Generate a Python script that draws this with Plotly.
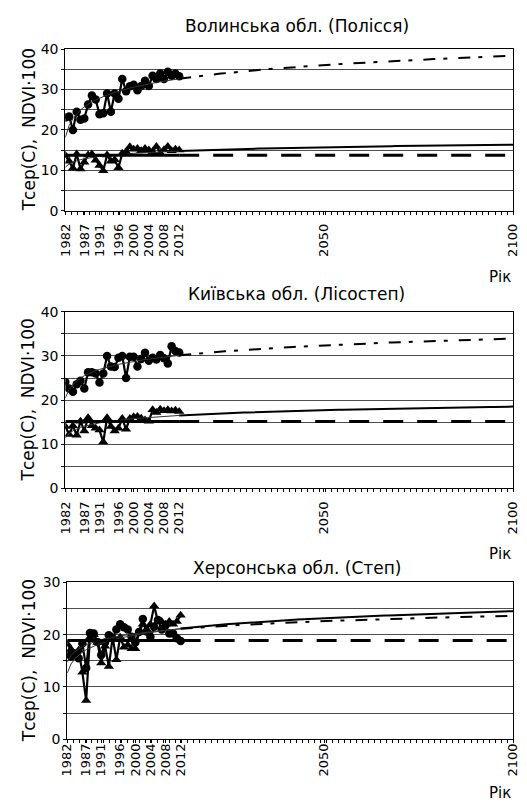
import numpy as np
import plotly.graph_objects as go

# ---------------- data ----------------
years = list(range(1982, 2013))
proj_years = list(range(2012, 2101))
tick_years = [1982, 1987, 1991, 1996, 2000, 2004, 2008, 2012, 2050, 2100]
tick_labels = [str(y) for y in tick_years]

titles = ["Волинська обл. (Полісся)", "Київська обл. (Лісостеп)", "Херсонська обл. (Степ)"]
y_title = "Тсер(С),  NDVI·100"
x_title = "Рік"

volyn_circles = [23.1, 23.3, 20.0, 24.5, 22.5, 22.8, 26.3, 28.5, 27.5, 23.9,
                 24.1, 29.0, 24.5, 29.0, 27.7, 32.6, 29.6, 30.8, 31.2, 29.8,
                 30.9, 32.2, 30.9, 33.4, 32.6, 34.0, 32.6, 34.4, 33.4, 34.0, 33.3]
volyn_triangles = [13.7, 12.2, 10.5, 14.0, 10.3, 12.0, 13.8, 14.0, 12.5, 11.2,
                   9.9, 13.8, 12.2, 12.6, 10.6, 14.2, 14.6, 15.8, 15.2, 15.4,
                   14.8, 15.4, 15.0, 14.6, 15.9, 14.3, 15.1, 15.9, 14.8, 15.2, 15.0]

kyiv_circles = [24.1, 22.6, 21.9, 23.6, 24.4, 22.6, 26.3, 26.3, 26.0, 24.0,
                26.0, 30.0, 27.6, 27.5, 29.6, 30.0, 25.0, 29.8, 29.8, 27.6,
                29.3, 30.7, 28.9, 29.6, 29.2, 30.2, 29.5, 28.3, 32.2, 31.1, 30.8]
kyiv_triangles = [14.0, 12.2, 14.2, 12.0, 15.2, 13.0, 16.0, 14.2, 13.6, 13.2,
                  10.5, 16.0, 14.0, 13.0, 13.6, 15.8, 13.4, 15.8, 16.2, 16.3,
                  15.9, 15.5, 15.2, 17.8, 17.2, 17.9, 17.6, 17.8, 17.5, 17.7, 17.4]

kherson_circles = [16.3, 15.8, 16.4, 15.5, 18.3, 13.6, 20.3, 20.2, 18.6, 16.1,
                   18.5, 19.9, 19.3, 21.0, 22.0, 21.4, 21.0, 19.6, 18.5, 20.5,
                   23.0, 20.6, 19.6, 21.5, 22.8, 21.0, 21.8, 20.2, 20.2, 19.3, 18.8]
kherson_triangles = [18.2, 17.2, 16.0, 17.0, 12.8, 7.4, 19.5, 20.0, 18.5, 14.6,
                     17.8, 13.9, 19.5, 15.2, 19.5, 17.6, 18.0, 17.3, 17.3, 20.5,
                     22.0, 21.0, 22.0, 25.5, 22.5, 22.5, 22.0, 22.5, 22.0, 22.5, 23.7]

y_max = [40, 40, 30]

panels = [
    (volyn_circles, volyn_triangles),
    (kyiv_circles, kyiv_triangles),
    (kherson_circles, kherson_triangles),
]

# ---------------- layout geometry (pixels) ----------------
W, H = 527, 807
FONT = "DejaVu Sans"
# (left, right, top, bottom) of each plot area in px
boxes = [(59, 520, 42, 206.7), (59, 520, 310, 490), (61, 520, 586, 746)]
title_y = [18, 292, 571]
rik_y = [274, 557, 801]
xlab_standoff = [4, 4, -5]


def px(x):
    return x / W


def py(y):
    return 1 - y / H


def log_fit(x_years, vals, out_years):
    t = np.array(x_years) - 1981.0
    b, a = np.polyfit(np.log(t), np.array(vals), 1)
    to = np.array(out_years) - 1981.0
    return a + b * np.log(to)


fig = go.Figure()
annotations = []

for i, (circ, tri) in enumerate(panels):
    n = i + 1
    xa = "x" if n == 1 else f"x{n}"
    ya = "y" if n == 1 else f"y{n}"

    circ_fit_hist = log_fit(years, circ, years)
    circ_fit_proj = log_fit(years, circ, proj_years)
    tri_fit_hist = log_fit(years, tri, years)
    tri_fit_proj = log_fit(years, tri, proj_years)
    tri_mean = float(np.mean(tri))

    common = dict(xaxis=xa, yaxis=ya, showlegend=False, hoverinfo="skip")

    fig.add_trace(go.Scatter(x=years, y=circ, mode="lines+markers",
                             line=dict(color="black", width=2.2),
                             marker=dict(symbol="circle", size=8.5, color="black"),
                             **common))
    fig.add_trace(go.Scatter(x=years, y=tri, mode="lines+markers",
                             line=dict(color="black", width=2.2),
                             marker=dict(symbol="triangle-up", size=9, color="black"),
                             **common))
    # trend lines inside the observed period
    fig.add_trace(go.Scatter(x=years, y=circ_fit_hist, mode="lines",
                             line=dict(color="#333333", width=1), **common))
    fig.add_trace(go.Scatter(x=years, y=tri_fit_hist, mode="lines",
                             line=dict(color="#333333", width=1), **common))
    fig.add_trace(go.Scatter(x=[years[0], years[-1]], y=[tri_mean, tri_mean], mode="lines",
                             line=dict(color="black", width=3), **common))
    # projections
    fig.add_trace(go.Scatter(x=proj_years, y=circ_fit_proj, mode="lines",
                             line=dict(color="black", width=2, dash="12px,8px,4px,11px"),
                             **common))
    fig.add_trace(go.Scatter(x=proj_years, y=tri_fit_proj, mode="lines",
                             line=dict(color="black", width=2), **common))
    fig.add_trace(go.Scatter(x=[proj_years[0], proj_years[-1]], y=[tri_mean, tri_mean],
                             mode="lines",
                             line=dict(color="black", width=3, dash="20px,14px"), **common))

    l, r, t, b = boxes[i]
    xkey = "xaxis" if n == 1 else f"xaxis{n}"
    ykey = "yaxis" if n == 1 else f"yaxis{n}"
    fig.layout[xkey] = dict(
        domain=[px(l), px(r)], anchor=ya, range=[1982, 2100],
        tickmode="array", tickvals=tick_years, ticktext=tick_labels,
        tickangle=-90, ticks="outside", ticklen=3, tickcolor="black",
        ticklabelstandoff=xlab_standoff[i], ticklabeloverflow="allow",
        minor=dict(ticks="outside", ticklen=3, tick0=1982, dtick=118 / 74,
                   tickcolor="black", showgrid=False),
        showline=True, linecolor="black", linewidth=1, mirror=True,
        showgrid=False, zeroline=False,
        tickfont=dict(family=FONT, size=13, color="black"),
    )
    fig.layout[ykey] = dict(
        domain=[py(b), py(t)], anchor=xa, range=[0, y_max[i]],
        tickmode="linear", tick0=0, dtick=10,
        ticks="outside", ticklen=3, tickcolor="black",
        minor=dict(ticks="outside", ticklen=3, dtick=5, tickcolor="black",
                   showgrid=True, gridcolor="#4d4d4d", gridwidth=1.3),
        showline=True, linecolor="black", linewidth=1, mirror=True,
        showgrid=True, gridcolor="#4d4d4d", gridwidth=1.3, zeroline=False,
        tickfont=dict(family=FONT, size=14, color="black"),
    )

    annotations.append(dict(text=titles[i], x=px(297), y=py(title_y[i]), xref="paper",
                            yref="paper", showarrow=False, xanchor="center",
                            yanchor="middle", font=dict(family=FONT, size=17, color="black")))
    annotations.append(dict(text=y_title, x=px(21), y=py((t + b) / 2), xref="paper",
                            yref="paper", showarrow=False, textangle=-90,
                            xanchor="center", yanchor="middle",
                            font=dict(family=FONT, size=17, color="black")))
    annotations.append(dict(text=x_title, x=px(506), y=py(rik_y[i]), xref="paper",
                            yref="paper", showarrow=False, xanchor="center",
                            yanchor="middle", font=dict(family=FONT, size=15, color="black")))

fig.update_layout(
    width=W, height=H, margin=dict(l=0, r=0, t=0, b=0),
    paper_bgcolor="white", plot_bgcolor="white",
    annotations=annotations, showlegend=False,
    font=dict(family=FONT, color="black"),
)

fig.write_html("out.html",
               config={"displayModeBar": False},
               post_script="document.body.style.margin='0';"
                           "document.body.style.overflow='hidden';")
